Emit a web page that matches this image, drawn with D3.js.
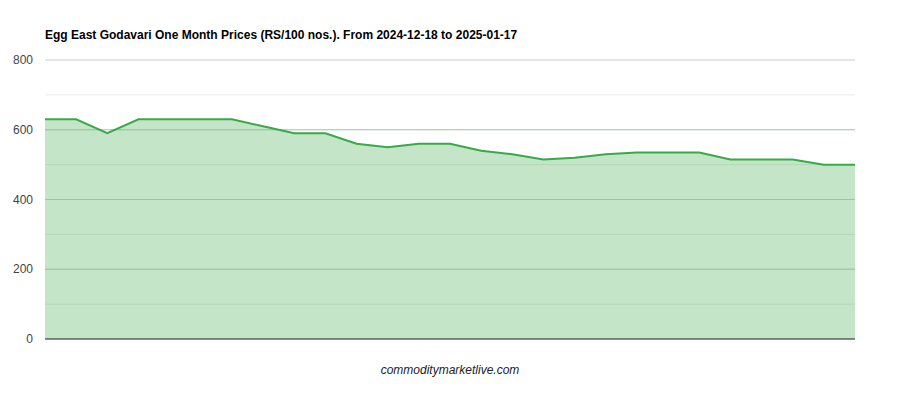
<!DOCTYPE html>
<html><head><meta charset="utf-8">
<script src="https://cdn.jsdelivr.net/npm/d3@7"></script>
<style>body{margin:0;background:#fff;font-family:Arial,"Liberation Sans",sans-serif}</style>
</head><body><svg id="chart" width="900" height="400"></svg>
<script>
const title = 'Egg East Godavari One Month Prices (RS/100 nos.). From 2024-12-18 to 2025-01-17'
const prices = [630, 630, 590, 630, 630, 630, 630, 610, 590, 590, 560, 550, 560, 560, 540, 530, 515, 520, 530, 535, 535, 535, 515, 515, 515, 500, 500]
const yTicks = [0, 200, 400, 600, 800]
const yMinor = [100, 300, 500, 700]

const svg = d3.select('#chart')
const mLeft = 45, mRight = 855, mTop = 60, mBottom = 339

const x = d3.scaleLinear().domain([0, prices.length - 1]).range([mLeft, mRight])
const y = d3.scaleLinear().domain([0, 800]).range([mBottom, mTop])

svg.append('text').attr('x', 45).attr('y', 39).text(title)
  .attr('font-size', 12).attr('font-weight', 'bold').attr('fill', '#000')

svg.selectAll('.minor').data(yMinor).join('line')
  .attr('x1', mLeft).attr('x2', mRight).attr('y1', d => y(d)).attr('y2', d => y(d))
  .attr('stroke', '#ebebeb')
svg.selectAll('.major').data(yTicks).join('line')
  .attr('x1', mLeft).attr('x2', mRight).attr('y1', d => y(d)).attr('y2', d => y(d))
  .attr('stroke', '#cccccc')

svg.append('path').datum(prices)
  .attr('d', d3.area().x((d, i) => x(i)).y0(mBottom).y1(d => y(d)))
  .attr('fill', '#3aaa48').attr('fill-opacity', 0.3)

// gridlines show through the fill
svg.selectAll('.majorOver').data(yTicks.slice(1, 4)).join('line')
  .attr('x1', mLeft).attr('x2', mRight).attr('y1', d => y(d)).attr('y2', d => y(d))
  .attr('stroke', '#9bc79b').attr('stroke-opacity', 0.6)

svg.append('path').datum(prices)
  .attr('d', d3.line().x((d, i) => x(i)).y(d => y(d)))
  .attr('fill', 'none').attr('stroke', '#3aaa48').attr('stroke-width', 2)

svg.append('line').attr('x1', mLeft).attr('x2', mRight).attr('y1', mBottom).attr('y2', mBottom)
  .attr('stroke', '#333')

svg.selectAll('.ylab').data(yTicks).join('text')
  .attr('x', 33).attr('y', d => y(d) + 4).attr('text-anchor', 'end')
  .attr('font-size', 12).attr('fill', '#444').text(d => d)

svg.append('text').attr('x', 450).attr('y', 374).attr('text-anchor', 'middle')
  .attr('font-size', 12).attr('font-style', 'italic').attr('fill', '#222')
  .text('commoditymarketlive.com')
</script></body></html>
